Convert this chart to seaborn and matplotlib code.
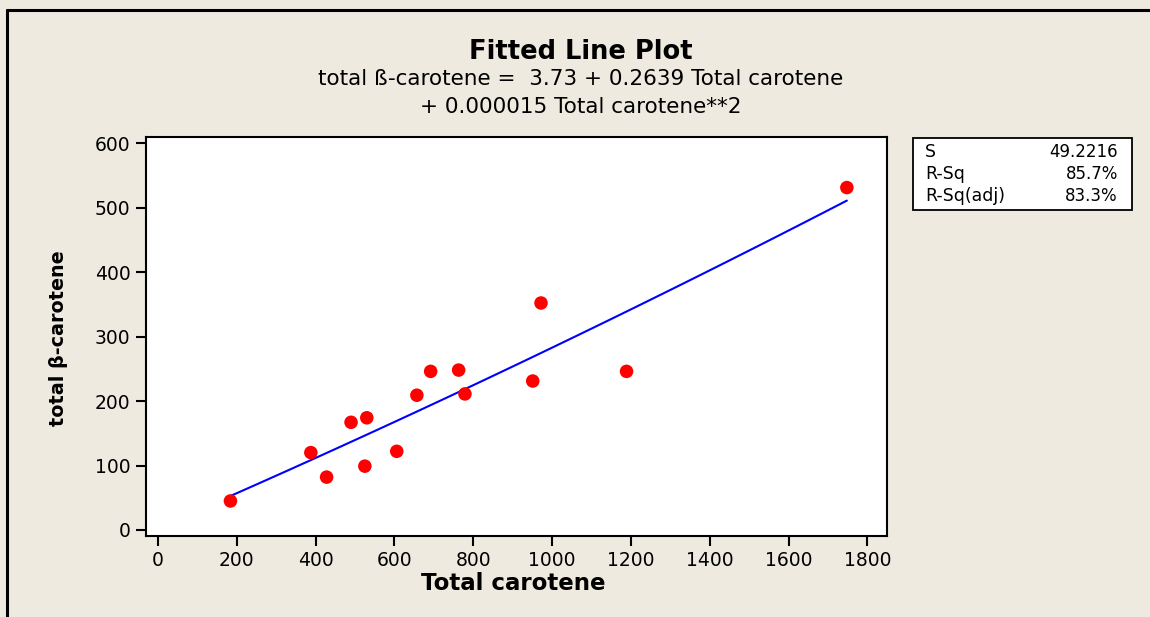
import numpy as np
import pandas as pd
import matplotlib
matplotlib.use("Agg")
import matplotlib.pyplot as plt
from matplotlib.patches import Rectangle
from matplotlib.lines import Line2D
import seaborn as sns

# ---- data ----
total_carotene = [184, 388, 428, 490, 530, 525, 606, 657, 692, 763, 779, 951, 972, 1189, 1748]
total_beta_carotene = [45, 120, 82, 167, 174, 99, 122, 209, 246, 248, 211, 231, 352, 246, 531]

x_ticks = [0, 200, 400, 600, 800, 1000, 1200, 1400, 1600, 1800]
y_ticks = [0, 100, 200, 300, 400, 500, 600]

stat_names = ["S", "R-Sq", "R-Sq(adj)"]
stat_values = ["49.2216", "85.7%", "83.3%"]

title = "Fitted Line Plot"
eq_line1 = "total ß-carotene =  3.73 + 0.2639 Total carotene"
eq_line2 = "+ 0.000015 Total carotene**2"

df = pd.DataFrame({"Total carotene": total_carotene,
                   "total beta": total_beta_carotene})

sns.set_theme(style="white")
plt.rcParams['font.family'] = ['DejaVu Sans']
plt.rcParams['text.color'] = 'black'
plt.rcParams['axes.labelcolor'] = 'black'
plt.rcParams['xtick.color'] = 'black'
plt.rcParams['ytick.color'] = 'black'

bg = "#EEEAE0"
fig = plt.figure(figsize=(11.5, 6.17), dpi=100, facecolor=bg)
ax = fig.add_axes([0.1268, 0.1313, 0.6449, 0.6462])
ax.set_facecolor("white")

sns.regplot(data=df, x="Total carotene", y="total beta", order=2, ci=None, ax=ax,
            scatter=False, line_kws=dict(color="#0000FF", lw=1.5))
sns.scatterplot(data=df, x="Total carotene", y="total beta", ax=ax,
                color="#FF0000", s=95, edgecolor="none", zorder=5)

ax.set_xlim(-30.7, 1851)
ax.set_ylim(-9.3, 609)
ax.set_xticks(x_ticks)
ax.set_yticks(y_ticks)
ax.set_xlabel("")
ax.set_ylabel("")
ax.tick_params(axis="both", direction="out", length=7, width=1.5, color="black",
               labelsize=13.5, labelcolor="black", pad=4)
ax.tick_params(axis="x", bottom=True)
ax.tick_params(axis="y", left=True)
for sp in ax.spines.values():
    sp.set_visible(True)
    sp.set_color("black")
    sp.set_linewidth(1.5)

# titles
fig.text(581 / 1150, 1 - 52 / 617, title, ha="center", va="center",
         fontsize=18.5, fontweight="bold", color="black")
fig.text(581 / 1150, 1 - 79 / 617, eq_line1, ha="center", va="center",
         fontsize=15.5, color="black")
fig.text(581 / 1150, 1 - 107 / 617, eq_line2, ha="center", va="center",
         fontsize=15.5, color="black")

# axis labels
fig.text(513 / 1150, 1 - 584 / 617, "Total carotene", ha="center", va="center",
         fontsize=16.5, fontweight="bold", color="black")
fig.text(59 / 1150, 1 - 338 / 617, "total β-carotene", ha="center", va="center",
         rotation=90, fontsize=13.8, fontweight="bold", color="black")

# stats box
fig.add_artist(Rectangle((913 / 1150, 1 - 210 / 617), (1132 - 913) / 1150, 72 / 617,
                         transform=fig.transFigure, facecolor="white",
                         edgecolor="black", lw=1.3))
row_y = [152, 174, 196]
for name, val, yy in zip(stat_names, stat_values, row_y):
    fig.text(925 / 1150, 1 - yy / 617, name, ha="left", va="center",
             fontsize=12.5, color="black")
    fig.text(1118 / 1150, 1 - yy / 617, val, ha="right", va="center",
             fontsize=12, color="black")

# outer frame (top and left edges)
fig.add_artist(Line2D([7 / 1150, 1.0], [1 - 10 / 617, 1 - 10 / 617],
                      transform=fig.transFigure, color="black", lw=2.2))
fig.add_artist(Line2D([7 / 1150, 7 / 1150], [0.0, 1 - 10 / 617],
                      transform=fig.transFigure, color="black", lw=2.2))

fig.savefig("out.png", dpi=100, facecolor=bg)
